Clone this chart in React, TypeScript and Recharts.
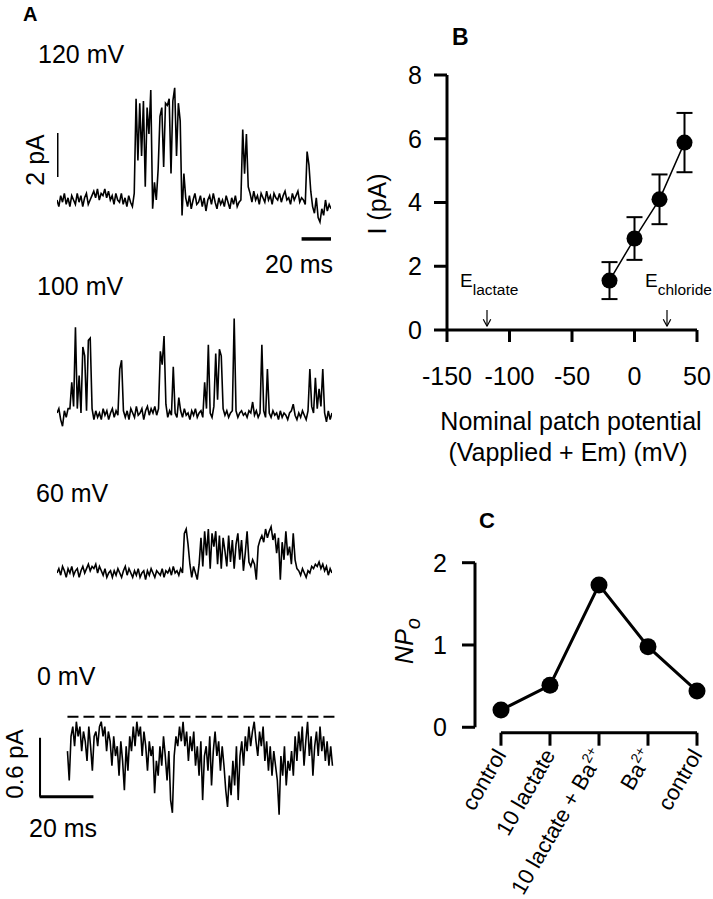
import { LineChart, Line, XAxis, YAxis, ReferenceLine, ErrorBar } from "recharts";

const FONT = "'Liberation Sans', Arial, Helvetica, sans-serif";

// Panel A single-channel records, pA, evenly sampled
const trace120 = [
  0.0, -0.3, 0.2, -0.1, 0.3, -0.2, 0.1, -0.3, 0.2, 0.0,
  -0.2, 0.3, -0.1, 0.2, -0.3, 0.1, 0.3, -0.2, 0.0, 0.2,
  0.4, 0.1, 0.5, 0.0, 0.3, 0.2, 0.5, 0.1, 0.4, 0.0,
  0.2, -0.2, 0.3, 0.0, -0.1, 0.3, -0.2, 0.1, -0.3, 0.2,
  -0.1, -0.3, 0.3,
  4.6, 1.8, 4.4, 2.0, 4.5, 0.6, 4.2, 3.0, 5.0, -0.4,
  0.8, 0.0, 1.4,
  3.8, 4.2, 1.5, 4.4, 4.3, 4.6, 1.2, 4.5, 5.1, 2.0, 4.4, 3.6, -0.7, 1.2,
  0.1, -0.3, 0.2, -0.4, 0.0, 0.3, -0.2, -0.1, 0.2, -0.3,
  0.1, -0.5, 0.0, 0.2, -0.2, 0.3, -0.1, -0.4, 0.1, -0.2,
  0.0, -0.3, 0.2, -0.1, -0.4, 0.1, -0.2, 0.2, -0.3, -0.1, 0.0,
  3.2, 1.2, 3.0, 0.6,
  0.3, -0.1, 0.4, 0.0, 0.2, -0.2, 0.3, 0.1, -0.1, 0.4,
  0.0, 0.2, -0.2, 0.3, 0.1, 0.0, 0.3, -0.1, 0.2, 0.4,
  0.0, 0.1, -0.2, 0.3, 0.0, 0.2, 0.4, -0.1, 0.1, 0.0, -0.2,
  2.2, 1.6,
  0.4, -0.3, -0.6, 0.1, -0.8, -1.0, -0.4, -0.7, 0.0, -0.5, -0.2, -0.4,
];

const trace100 = [
  0.0, 0.2, -0.3, -0.6, 0.1, -0.2, 0.2,
  0.2, 1.4, 0.3, 3.9, 0.2, 1.7, 0.0, 3.0, 2.6, 0.1, 3.3, 3.4, 0.2, -0.3,
  0.1, -0.2, 0.0, -0.3, 0.2, -0.1, 0.1, -0.3, 0.0, 0.2, -0.2, 0.1, -0.1,
  2.0, 2.4, 0.1,
  -0.2, 0.1, -0.3, 0.2, 0.0, -0.2, 0.3, -0.1, 0.0, 0.2,
  -0.3, 0.1, 0.3, -0.1, 0.2, 0.0, 0.3, -0.1, 0.2,
  2.8, 2.2, 3.5, 0.4, -0.2, 0.1, -0.1, 2.1, 0.0, -0.2, 0.7, 0.1,
  -0.2, 0.2, -0.1, 0.0, -0.3, 0.1, -0.1, 0.2, -0.2, 0.0, 0.1, -0.2,
  1.4, 0.2, 3.1, 0.0, -0.2, 0.3, 2.7, 0.6, 2.9, 2.6, 0.2, -0.1,
  0.1, -0.2, 0.0, 0.1,
  4.3, 0.1,
  -0.2, 0.0, 0.1, -0.1, 0.0, -0.2, 0.1, 0.0,
  0.5, -0.1, 0.1, -0.2, 0.0,
  3.1, 0.1, -0.2, 2.0, 0.0,
  -0.2, 0.1, -0.1, 0.0, -0.3, 0.1, -0.2, 0.0, -0.1, -0.3, 0.0, 0.1,
  0.4,
  -0.1, -0.3, 0.0, -0.2, 0.1, -0.1, -0.3, 0.1,
  2.0, 0.3, 0.0, 1.6, 0.2, 1.1, 0.3, 2.0, 0.0, -0.4, 0.1, -0.3, 0.0,
];

const trace60 = [
  0.0, 0.2, -0.1, 0.3, 0.1, -0.2, 0.2, 0.0, 0.3, -0.1,
  0.1, 0.2, -0.2, 0.1, 0.3, 0.0, 0.2, 0.4, 0.1, 0.3,
  0.2, 0.4, 0.0, 0.3, 0.1, -0.1, 0.2, -0.2, 0.0, 0.1,
  -0.2, 0.1, -0.1, 0.2, 0.0, -0.2, 0.1, 0.3, -0.1, 0.2,
  0.0, -0.2, 0.1, -0.1, 0.2, -0.2, 0.0, 0.1, -0.3, 0.1,
  -0.1, 0.2, 0.0, -0.2, 0.1, 0.0, -0.1, 0.2, -0.2, 0.1,
  0.0, 0.2, -0.1, 0.3, 0.0, 0.1, -0.1, 0.2, 0.0,
  1.8, 2.0, 1.3, 0.4, -0.2, 0.3, 0.0, -0.3, 0.4,
  1.6, 0.3, 1.9, 0.8, 2.0, 0.2, 1.8, 1.2, 1.9, 0.4,
  1.7, 0.2, 1.6, 1.0, 0.3, 1.7, 0.5, 1.5, 0.2, 1.3,
  1.8, 0.6, 1.5, 0.1, 0.9, 1.9, 0.5, 0.3, 0.6, 0.4,
  -0.3, 1.2, 1.5, 1.7, 1.4, 2.0, 1.6, 1.9, 2.1, 1.5,
  1.8, 0.9, 1.6, -0.3, 1.4, 0.6, 1.9, 0.8, 1.2, 0.4,
  1.8, 0.6, 0.2, 0.1,
  -0.1, 0.2, 0.0, -0.2, 0.1, 0.0, 0.3, 0.2, 0.4, 0.3,
  0.5, 0.2, 0.4, 0.1, 0.3, -0.1, 0.2, 0.0,
];

const trace0 = [
  -0.35, -0.65, -0.2, -0.1, -0.3, -0.05, -0.2, -0.1, -0.35, -0.15,
  -0.25, -0.45, -0.1, -0.3, -0.55, -0.2, -0.15, -0.3, -0.1, -0.05,
  -0.2, -0.1, -0.35, -0.15, -0.25, -0.5, -0.2, -0.4, -0.3, -0.6,
  -0.25, -0.45, -0.75, -0.3, -0.55, -0.2, -0.35, -0.1, -0.3, -0.05,
  -0.2, -0.1, -0.4, -0.15, -0.3, -0.55, -0.25, -0.4, -0.3, -0.78,
  -0.45, -0.6, -0.3, -0.5, -0.2, -0.4, -0.65, -0.35, -0.85, -0.98,
  -0.4, -0.2, -0.3, -0.1, -0.25, -0.05, -0.3, -0.15, -0.45, -0.2,
  -0.35, -0.15, -0.5, -0.3, -0.6, -0.25, -0.85, -0.4, -0.3, -0.55,
  -0.2, -0.7, -0.35, -0.15, -0.4, -0.25, -0.55, -0.3, -0.5, -0.75,
  -0.92, -0.6, -0.8, -0.45, -0.7, -0.3, -0.85, -0.4, -0.25, -0.5,
  -0.2, -0.35, -0.1, -0.3, -0.15, -0.05, -0.25, -0.4, -0.15, -0.3,
  -0.1, -0.45, -0.25, -0.55, -0.3, -0.6, -0.35, -0.5, -0.65, -1.0,
  -0.4, -0.6, -0.3, -0.7, -0.45, -0.55, -0.35, -0.6, -0.2, -0.45,
  -0.15, -0.35, -0.1, -0.5, -0.25, -0.05, -0.4, -0.2, -0.6, -0.3,
  -0.15, -0.4, -0.1, -0.35, -0.2, -0.45, -0.25, -0.5, -0.3, -0.5,
];

// Panel B: I-V relation
const ivPotential = [-20, 0, 20, 40];
const ivCurrent = [1.55, 2.87, 4.1, 5.88];
const ivSem = [0.58, 0.67, 0.78, 0.93];
const ivTicksX = [-150, -100, -50, 0, 50];
const ivTicksY = [0, 2, 4, 6, 8];
const eLactate = -118;
const eChloride = 26;

// Panel C: NPo per condition
const npoLabels = ["control", "10 lactate", "10 lactate + Ba", "Ba", "control"];
const npoSup = ["", "", "2+", "2+", ""];
const npoValues = [0.21, 0.51, 1.73, 0.98, 0.44];
const npoTicksY = [0, 1, 2];

const black = "#000";

function Trace({ values, left, top, width, height, xDomain, yDomain, children }: any) {
  const data = values.map((v: number, i: number) => ({ t: i, v }));
  return (
    <div style={{ position: "absolute", left, top }}>
      <LineChart width={width} height={height} data={data} margin={{ top: 0, right: 0, bottom: 0, left: 0 }}>
        <XAxis hide type="number" dataKey="t" domain={xDomain} allowDataOverflow />
        <YAxis hide type="number" domain={yDomain} allowDataOverflow />
        <Line type="linear" dataKey="v" stroke={black} strokeWidth={1.6} dot={false} isAnimationActive={false} />
        {children}
      </LineChart>
    </div>
  );
}

function arrow(x: number) {
  return [
    <ReferenceLine key={`s${x}`} segment={[{ x, y: 0.63 }, { x, y: 0.12 }]} stroke={black} strokeWidth={1.2} />,
    <ReferenceLine key={`l${x}`} segment={[{ x: x - 3, y: 0.34 }, { x, y: 0.12 }]} stroke={black} strokeWidth={1.2} />,
    <ReferenceLine key={`r${x}`} segment={[{ x: x + 3, y: 0.34 }, { x, y: 0.12 }]} stroke={black} strokeWidth={1.2} />,
  ];
}

function CategoryTick(props: any) {
  const { x, y, payload } = props;
  const i = payload.value;
  return (
    <text
      transform={`translate(${x + 6},${y + 7}) rotate(-60)`}
      textAnchor="end"
      fontSize={22}
      fontFamily={FONT}
      fill={black}
    >
      {npoLabels[i]}
      {npoSup[i] ? (
        <tspan dy={-9} fontSize={14}>
          {npoSup[i]}
        </tspan>
      ) : null}
    </text>
  );
}

export default function App() {
  const ivData = ivPotential.map((v, k) => ({ v, i: ivCurrent[k], e: ivSem[k] }));
  const npoData = npoValues.map((n, k) => ({ k, n }));
  const axisStyle = { stroke: black, strokeWidth: 3 };
  const tickText = { fill: black, fontSize: 25, fontFamily: FONT };

  return (
    <div style={{ position: "absolute", left: 0, top: 0, width: 713, height: 899, background: "#fff" }}>
      <Trace values={trace120} left={57} top={79} width={274} height={165} xDomain={[0, 149]} yDomain={[-2, 5.5]}>
        <ReferenceLine segment={[{ x: 0, y: 1.05 }, { x: 0, y: 3.05 }]} stroke={black} strokeWidth={3} />
        <ReferenceLine segment={[{ x: 133, y: -1.77 }, { x: 149, y: -1.77 }]} stroke={black} strokeWidth={3.5} />
      </Trace>
      <Trace values={trace100} left={57} top={303} width={275} height={132} xDomain={[0, 149]} yDomain={[-1, 5]} />
      <Trace values={trace60} left={57} top={507} width={275} height={88} xDomain={[0, 149]} yDomain={[-1, 3]} />
      <Trace values={trace0} left={38.5} top={707.2} width={300.6} height={117.6} xDomain={[-16, 153]} yDomain={[-1.1, 0.1]}>
        <ReferenceLine segment={[{ x: 0, y: 0 }, { x: 153, y: 0 }]} stroke={black} strokeWidth={2} strokeDasharray="11 5" />
        <ReferenceLine segment={[{ x: -15.7, y: -0.214 }, { x: -15.7, y: -0.816 }]} stroke={black} strokeWidth={3} />
        <ReferenceLine segment={[{ x: -15.7, y: -0.816 }, { x: 14.6, y: -0.816 }]} stroke={black} strokeWidth={3} />
      </Trace>

      <div style={{ position: "absolute", left: 380, top: 60 }}>
        <LineChart width={333} height={340} data={ivData} margin={{ top: 15, right: 16, bottom: 10, left: 0 }}>
          <XAxis
            type="number"
            dataKey="v"
            domain={[-150, 50]}
            ticks={ivTicksX}
            interval={0}
            height={60}
            axisLine={axisStyle}
            tickLine={axisStyle}
            tickSize={12}
            tickMargin={25}
            tick={tickText}
          />
          <YAxis
            type="number"
            domain={[0, 8]}
            ticks={ivTicksY}
            interval={0}
            width={67}
            axisLine={axisStyle}
            tickLine={axisStyle}
            tickSize={13}
            tickMargin={12}
            tick={tickText}
          />
          {arrow(eLactate)}
          {arrow(eChloride)}
          <Line
            type="linear"
            dataKey="i"
            stroke={black}
            strokeWidth={1.5}
            dot={{ r: 8, fill: black, stroke: black, strokeWidth: 0 }}
            isAnimationActive={false}
          >
            <ErrorBar dataKey="e" width={8} stroke={black} strokeWidth={2} direction="y" />
          </Line>
        </LineChart>
      </div>

      <div style={{ position: "absolute", left: 380, top: 540 }}>
        <LineChart width={333} height={359} data={npoData} margin={{ top: 22.7, right: 16, bottom: 6.3, left: 0 }}>
          <XAxis
            type="number"
            dataKey="k"
            domain={[-0.53, 4]}
            ticks={[0, 1, 2, 3, 4]}
            interval={0}
            height={160}
            axisLine={false}
            tickLine={axisStyle}
            tickSize={13}
            tick={<CategoryTick />}
          />
          <YAxis
            type="number"
            domain={[-0.066, 2]}
            ticks={npoTicksY}
            interval={0}
            width={95}
            axisLine={false}
            tickLine={axisStyle}
            tickSize={13}
            tickMargin={15}
            tick={tickText}
          />
          <ReferenceLine segment={[{ x: -0.53, y: 0 }, { x: -0.53, y: 2 }]} stroke={black} strokeWidth={3} />
          <ReferenceLine segment={[{ x: 0, y: -0.066 }, { x: 4, y: -0.066 }]} stroke={black} strokeWidth={3} />
          <Line
            type="linear"
            dataKey="n"
            stroke={black}
            strokeWidth={3}
            dot={{ r: 8.5, fill: black, stroke: black, strokeWidth: 0 }}
            isAnimationActive={false}
          />
        </LineChart>
      </div>

      <svg width={713} height={899} style={{ position: "absolute", left: 0, top: 0, pointerEvents: "none" }} fontFamily={FONT} fill={black}>
        <text x={23} y={21} fontSize={20} fontWeight="bold">A</text>
        <text x={38} y={63} fontSize={25}>120 mV</text>
        <text transform="translate(44,160) rotate(-90)" textAnchor="middle" fontSize={25}>2 pA</text>
        <text x={265} y={273} fontSize={25}>20 ms</text>
        <text x={37} y={295} fontSize={25}>100 mV</text>
        <text x={36} y={502} fontSize={25}>60 mV</text>
        <text x={37} y={685} fontSize={25}>0 mV</text>
        <text transform="translate(23,764) rotate(-90)" textAnchor="middle" fontSize={24}>0.6 pA</text>
        <text x={29} y={837} fontSize={25}>20 ms</text>

        <text x={452} y={45} fontSize={23} fontWeight="bold">B</text>
        <text transform="translate(386,204) rotate(-90)" textAnchor="middle" fontSize={25}>I (pA)</text>
        <text x={460} y={287} fontSize={19}>E<tspan fontSize={15.5} dy={8}>lactate</tspan></text>
        <text x={645} y={287} fontSize={19}>E<tspan fontSize={15.5} dy={8}>chloride</tspan></text>
        <text x={571} y={430} textAnchor="middle" fontSize={25}>Nominal patch potential</text>
        <text x={568} y={461} textAnchor="middle" fontSize={25}>(Vapplied + Em) (mV)</text>

        <text x={479} y={528} fontSize={22} fontWeight="bold">C</text>
        <text transform="translate(413,641) rotate(-90)" textAnchor="middle" fontSize={25} fontStyle="italic">
          NP<tspan fontSize={20} dy={7}>o</tspan>
        </text>
      </svg>
    </div>
  );
}
